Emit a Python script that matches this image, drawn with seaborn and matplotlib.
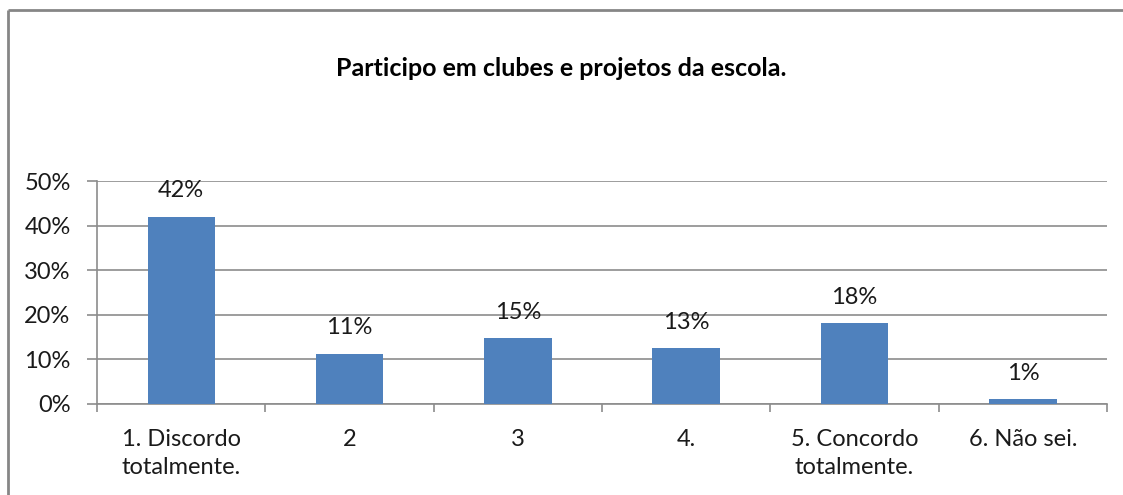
import matplotlib
matplotlib.use("Agg")
import matplotlib.pyplot as plt
import matplotlib.ticker as ticker
import seaborn as sns
import pandas as pd
from matplotlib.lines import Line2D

## data
categories = ["1. Discordo\ntotalmente.", "2", "3", "4.", "5. Concordo\ntotalmente.", "6. Não sei."]
values = [42.0, 11.3, 14.8, 12.5, 18.2, 1.1]
value_labels = ["42%", "11%", "15%", "13%", "18%", "1%"]
title = "Participo em clubes e projetos da escola."

df = pd.DataFrame({"cat": categories, "val": values})

sns.set_style("white")
plt.rcParams['font.family'] = ['Lato', 'DejaVu Sans']

fig = plt.figure(figsize=(11.23, 4.95), dpi=100)
ax = fig.add_axes([97 / 1123, 1 - 404 / 495, (1107 - 97) / 1123, (404 - 181) / 495])

sns.barplot(data=df, x="cat", y="val", color="#4F81BD", saturation=1, width=0.4,
            linewidth=0, ax=ax, zorder=3)

ax.set_ylim(0, 50)
ax.set_xlim(-0.5, len(categories) - 0.5)
ax.yaxis.set_major_locator(ticker.MultipleLocator(10))
ax.yaxis.set_major_formatter(ticker.FuncFormatter(lambda v, p: "%d%%" % v))
ax.grid(axis="y", color="#8c8c8c", linewidth=1.2, zorder=0)
ax.set_xlabel("")
ax.set_ylabel("")

for s in ["top", "right"]:
    ax.spines[s].set_visible(False)
for s in ["left", "bottom"]:
    ax.spines[s].set_color("#8c8c8c")
    ax.spines[s].set_linewidth(1.2)

# tick marks between categories
ax.set_xticks([i + 0.5 for i in range(-1, len(categories))], minor=True)
ax.tick_params(axis="x", which="minor", length=6, color="#8c8c8c", width=1.2, direction="out")
ax.tick_params(axis="x", which="major", length=0, labelsize=17, pad=18, labelcolor="#1a1a1a")
ax.tick_params(axis="y", length=7, color="#8c8c8c", width=1.2, direction="out", labelsize=17, pad=12,
               labelcolor="#1a1a1a")
ax.yaxis.set_ticks_position("left")
ax.xaxis.set_ticks_position("bottom")
for lab in ax.get_xticklabels():
    lab.set_linespacing(1.4)

for i, (v, lab) in enumerate(zip(values, value_labels)):
    ax.annotate(lab, (i, v), xytext=(0, 11), textcoords="offset points",
                ha="center", va="bottom", fontsize=17, color="#1a1a1a")

fig.text(561 / 1123, 1 - 69 / 495, title, ha="center", va="center", fontsize=18,
         fontweight="bold", color="black")

# chart frame (left and top visible)
fig.add_artist(Line2D([8 / 1123, 8 / 1123], [0, 1 - 10 / 495], transform=fig.transFigure,
                      color="#868686", linewidth=2, solid_capstyle="butt"))
fig.add_artist(Line2D([8 / 1123, 1.01], [1 - 10 / 495, 1 - 10 / 495], transform=fig.transFigure,
                      color="#868686", linewidth=2, solid_capstyle="butt"))

plt.savefig("out.png", dpi=100)
